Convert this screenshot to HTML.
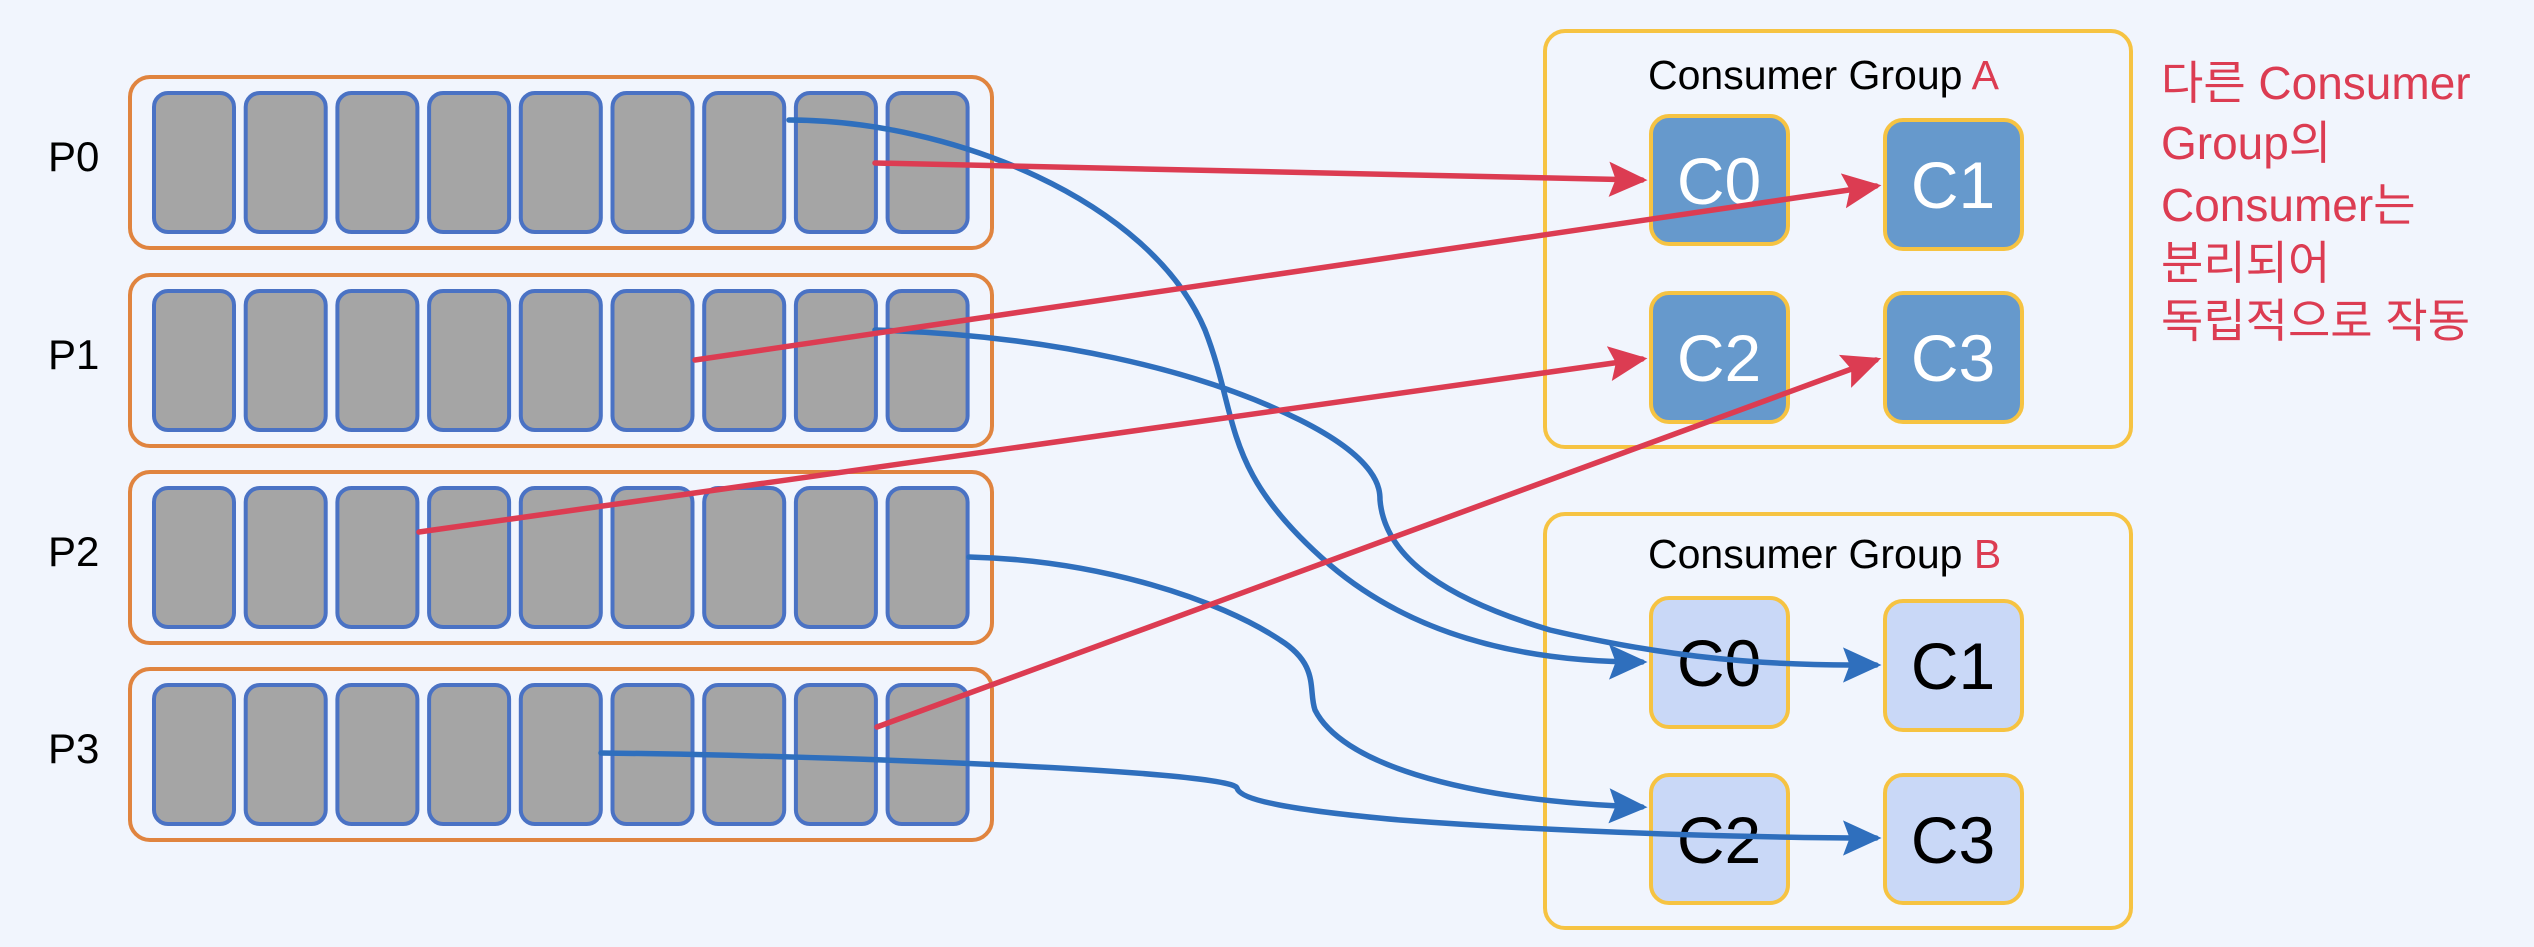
<!DOCTYPE html>
<html><head><meta charset="utf-8"><style>
html,body{margin:0;padding:0;background:#f1f5fd;}
body{width:2534px;height:942px;overflow:hidden;}
text{font-family:"Liberation Sans","Noto Sans CJK KR",sans-serif;}
</style></head><body>
<svg width="2534" height="942" viewBox="0 0 2534 942" xmlns="http://www.w3.org/2000/svg">
<defs>
<marker id="ar" markerWidth="8" markerHeight="8" refX="6" refY="4" orient="auto" markerUnits="strokeWidth"><path d="M0,0.8 L7,4 L0,7.2 L1.2,4 Z" fill="#dc3c52"/></marker>
<marker id="ab" markerWidth="8" markerHeight="8" refX="6" refY="4" orient="auto" markerUnits="strokeWidth"><path d="M0,0.8 L7,4 L0,7.2 L1.2,4 Z" fill="#2f6fbd"/></marker>
<g id="row">
<rect x="154" y="0" width="80" height="139" rx="14"/>
<rect x="245.7" y="0" width="80" height="139" rx="14"/>
<rect x="337.4" y="0" width="80" height="139" rx="14"/>
<rect x="429.1" y="0" width="80" height="139" rx="14"/>
<rect x="520.8" y="0" width="80" height="139" rx="14"/>
<rect x="612.5" y="0" width="80" height="139" rx="14"/>
<rect x="704.2" y="0" width="80" height="139" rx="14"/>
<rect x="795.9" y="0" width="80" height="139" rx="14"/>
<rect x="887.6" y="0" width="80" height="139" rx="14"/>
</g>
</defs>
<rect width="2534" height="942" fill="#f1f5fd"/>
<g font-size="42" fill="#000">
<text x="48" y="171">P0</text><text x="48" y="369">P1</text><text x="48" y="566">P2</text><text x="48" y="763">P3</text>
</g>
<g fill="none" stroke="#e0843f" stroke-width="4">
<rect x="130" y="77" width="862" height="171" rx="20"/>
<rect x="130" y="275" width="862" height="171" rx="20"/>
<rect x="130" y="472" width="862" height="171" rx="20"/>
<rect x="130" y="669" width="862" height="171" rx="20"/>
</g>
<g fill="#a5a5a5" stroke="#4a72c4" stroke-width="4">
<use href="#row" y="93"/>
<use href="#row" y="291"/>
<use href="#row" y="488"/>
<use href="#row" y="685"/>
</g>
<g fill="none" stroke="#f6c342" stroke-width="4">
<rect x="1545" y="31" width="586" height="416" rx="20"/>
<rect x="1545" y="514" width="586" height="414" rx="20"/>
</g>
<g stroke="#f6c342" stroke-width="4">
<rect x="1651" y="116" width="137" height="128" rx="18" fill="#6699cc"/>
<rect x="1885" y="120" width="137" height="129" rx="18" fill="#6699cc"/>
<rect x="1651" y="293" width="137" height="129" rx="18" fill="#6699cc"/>
<rect x="1885" y="293" width="137" height="129" rx="18" fill="#6699cc"/>
<rect x="1651" y="598" width="137" height="129" rx="18" fill="#c9d8f7"/>
<rect x="1885" y="601" width="137" height="129" rx="18" fill="#c9d8f7"/>
<rect x="1651" y="775" width="137" height="128" rx="18" fill="#c9d8f7"/>
<rect x="1885" y="775" width="137" height="128" rx="18" fill="#c9d8f7"/>
</g>
<g font-size="66" text-anchor="middle">
<text x="1719" y="204" fill="#fff">C0</text><text x="1953" y="208" fill="#fff">C1</text>
<text x="1719" y="381" fill="#fff">C2</text><text x="1953" y="381" fill="#fff">C3</text>
<text x="1719" y="686" fill="#000">C0</text><text x="1953" y="689" fill="#000">C1</text>
<text x="1719" y="863" fill="#000">C2</text><text x="1953" y="863" fill="#000">C3</text>
</g>
<g font-size="41">
<text x="1648" y="89" fill="#000">Consumer Group <tspan fill="#dc3c52">A</tspan></text>
<text x="1648" y="568" fill="#000">Consumer Group <tspan fill="#dc3c52">B</tspan></text>
</g>
<g font-size="46" fill="#dc3c52">
<text x="2161" y="99">다른 Consumer</text>
<text x="2161" y="159">Group의</text>
<text x="2161" y="221">Consumer는</text>
<text x="2161" y="279">분리되어</text>
<text x="2161" y="337">독립적으로 작동</text>
</g>
<g fill="none" stroke="#2f6fbd" stroke-width="5.5" stroke-linecap="round">
<path d="M789,120 C950,120 1150,200 1205,330 C1240,420 1220,470 1330,565 C1430,650 1560,662 1642,662" marker-end="url(#ab)"/>
<path d="M875,330 C1050,335 1200,370 1300,420 C1380,460 1380,490 1380,500 C1385,560 1450,600 1550,630 C1700,665 1800,665 1876,665" marker-end="url(#ab)"/>
<path d="M969,557 C1100,560 1220,600 1280,640 C1320,665 1308,690 1315,710 C1340,760 1450,800 1642,807" marker-end="url(#ab)"/>
<path d="M601,753 C800,755 1230,770 1237,788 C1240,800 1290,810 1400,820 C1600,835 1800,838 1876,838" marker-end="url(#ab)"/>
</g>
<g fill="none" stroke="#dc3c52" stroke-width="5.5" stroke-linecap="round">
<line x1="875" y1="163" x2="1642" y2="180" marker-end="url(#ar)"/>
<line x1="695" y1="360" x2="1876" y2="186" marker-end="url(#ar)"/>
<line x1="419" y1="532" x2="1642" y2="359" marker-end="url(#ar)"/>
<line x1="877" y1="727" x2="1876" y2="360" marker-end="url(#ar)"/>
</g>
</svg>
</body></html>
